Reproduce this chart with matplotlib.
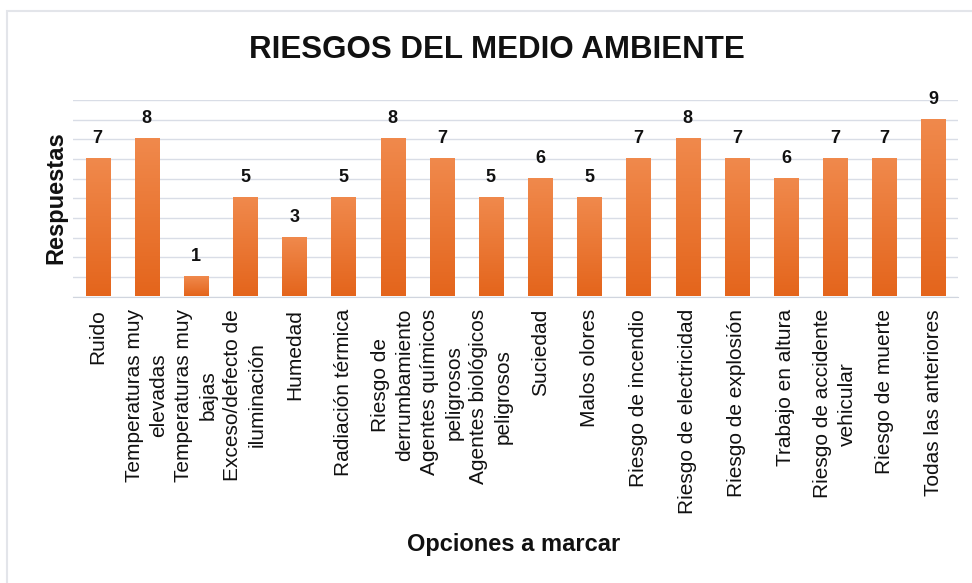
import numpy as np
import matplotlib
matplotlib.use("Agg")
import matplotlib.pyplot as plt
from matplotlib.patches import Rectangle

plt.rcParams['font.family'] = ['Liberation Sans', 'DejaVu Sans']

# DATA
categorias = [
    "Ruido",
    "Temperaturas muy\nelevadas",
    "Temperaturas muy\nbajas",
    "Exceso/defecto de\niluminación",
    "Humedad",
    "Radiación térmica",
    "Riesgo de\nderrumbamiento",
    "Agentes químicos\npeligrosos",
    "Agentes biológicos\npeligrosos",
    "Suciedad",
    "Malos olores",
    "Riesgo de incendio",
    "Riesgo de electricidad",
    "Riesgo de explosión",
    "Trabajo en altura",
    "Riesgo de accidente\nvehicular",
    "Riesgo de muerte",
    "Todas las anteriores",
]
respuestas = [7, 8, 1, 5, 3, 5, 8, 7, 5, 6, 5, 7, 8, 7, 6, 7, 7, 9]

titulo = "RIESGOS DEL MEDIO AMBIENTE"
eje_x = "Opciones a marcar"
eje_y = "Respuestas"

# FIGURE AND AXES
fig = plt.figure(figsize=(9.72, 5.83), dpi=100)
ax = fig.add_axes([73/972, 1-296.5/583, (958-73)/972, 196.5/583])

# light border round the chart area
fig.patches.append(Rectangle((7/972, -0.05), 1.2, 1.05 - 11/583,
                             transform=fig.transFigure, fill=False,
                             edgecolor='#e3e5ea', linewidth=1.5))

# GRADIENT BARS
ancho = 0.49
grad = np.linspace(0, 1, 100).reshape(-1, 1)
cmap = matplotlib.colors.LinearSegmentedColormap.from_list(
    'naranja', ['#e4651c', '#f0894c'])
x = np.arange(len(categorias))
for xi, v in zip(x, respuestas):
    ax.imshow(grad, extent=[xi - ancho/2, xi + ancho/2, 0, v], origin='lower',
              cmap=cmap, aspect='auto', zorder=3)
    ax.annotate(str(v), (xi, v), xytext=(0, 8.5), textcoords='offset points',
                ha='center', va='bottom', fontsize=13, fontweight='bold',
                color='#111111')

ax.set_xlim(-0.5, len(categorias) - 0.5)
ax.set_ylim(0, 10)
ax.set_yticks(np.arange(0, 11, 1))
ax.set_yticklabels([])
ax.tick_params(axis='y', length=0)
ax.grid(axis='y', color='#d9dde6', linewidth=1, zorder=0)
ax.set_axisbelow(True)

ax.set_xticks(x)
ax.set_xticklabels(categorias, rotation=90, fontsize=15, color='#111111',
                   linespacing=1.35)
ax.tick_params(axis='x', length=0, pad=9)

for s in ['top', 'right', 'left']:
    ax.spines[s].set_visible(False)
ax.spines['bottom'].set_color('#d0d5de')

# TEXTS
fig.text(497/972, 1 - 50/583, titulo, ha='center', va='center',
         fontsize=22.5, fontweight='bold', color='#111111')
fig.text(56/972, 1 - 198/583, eje_y, ha='center', va='center', rotation=90,
         fontsize=17, fontweight='bold', color='#111111')
fig.text(514/972, 1 - 545/583, eje_x, ha='center', va='center',
         fontsize=17, fontweight='bold', color='#111111')

plt.savefig("out.png", dpi=100)
